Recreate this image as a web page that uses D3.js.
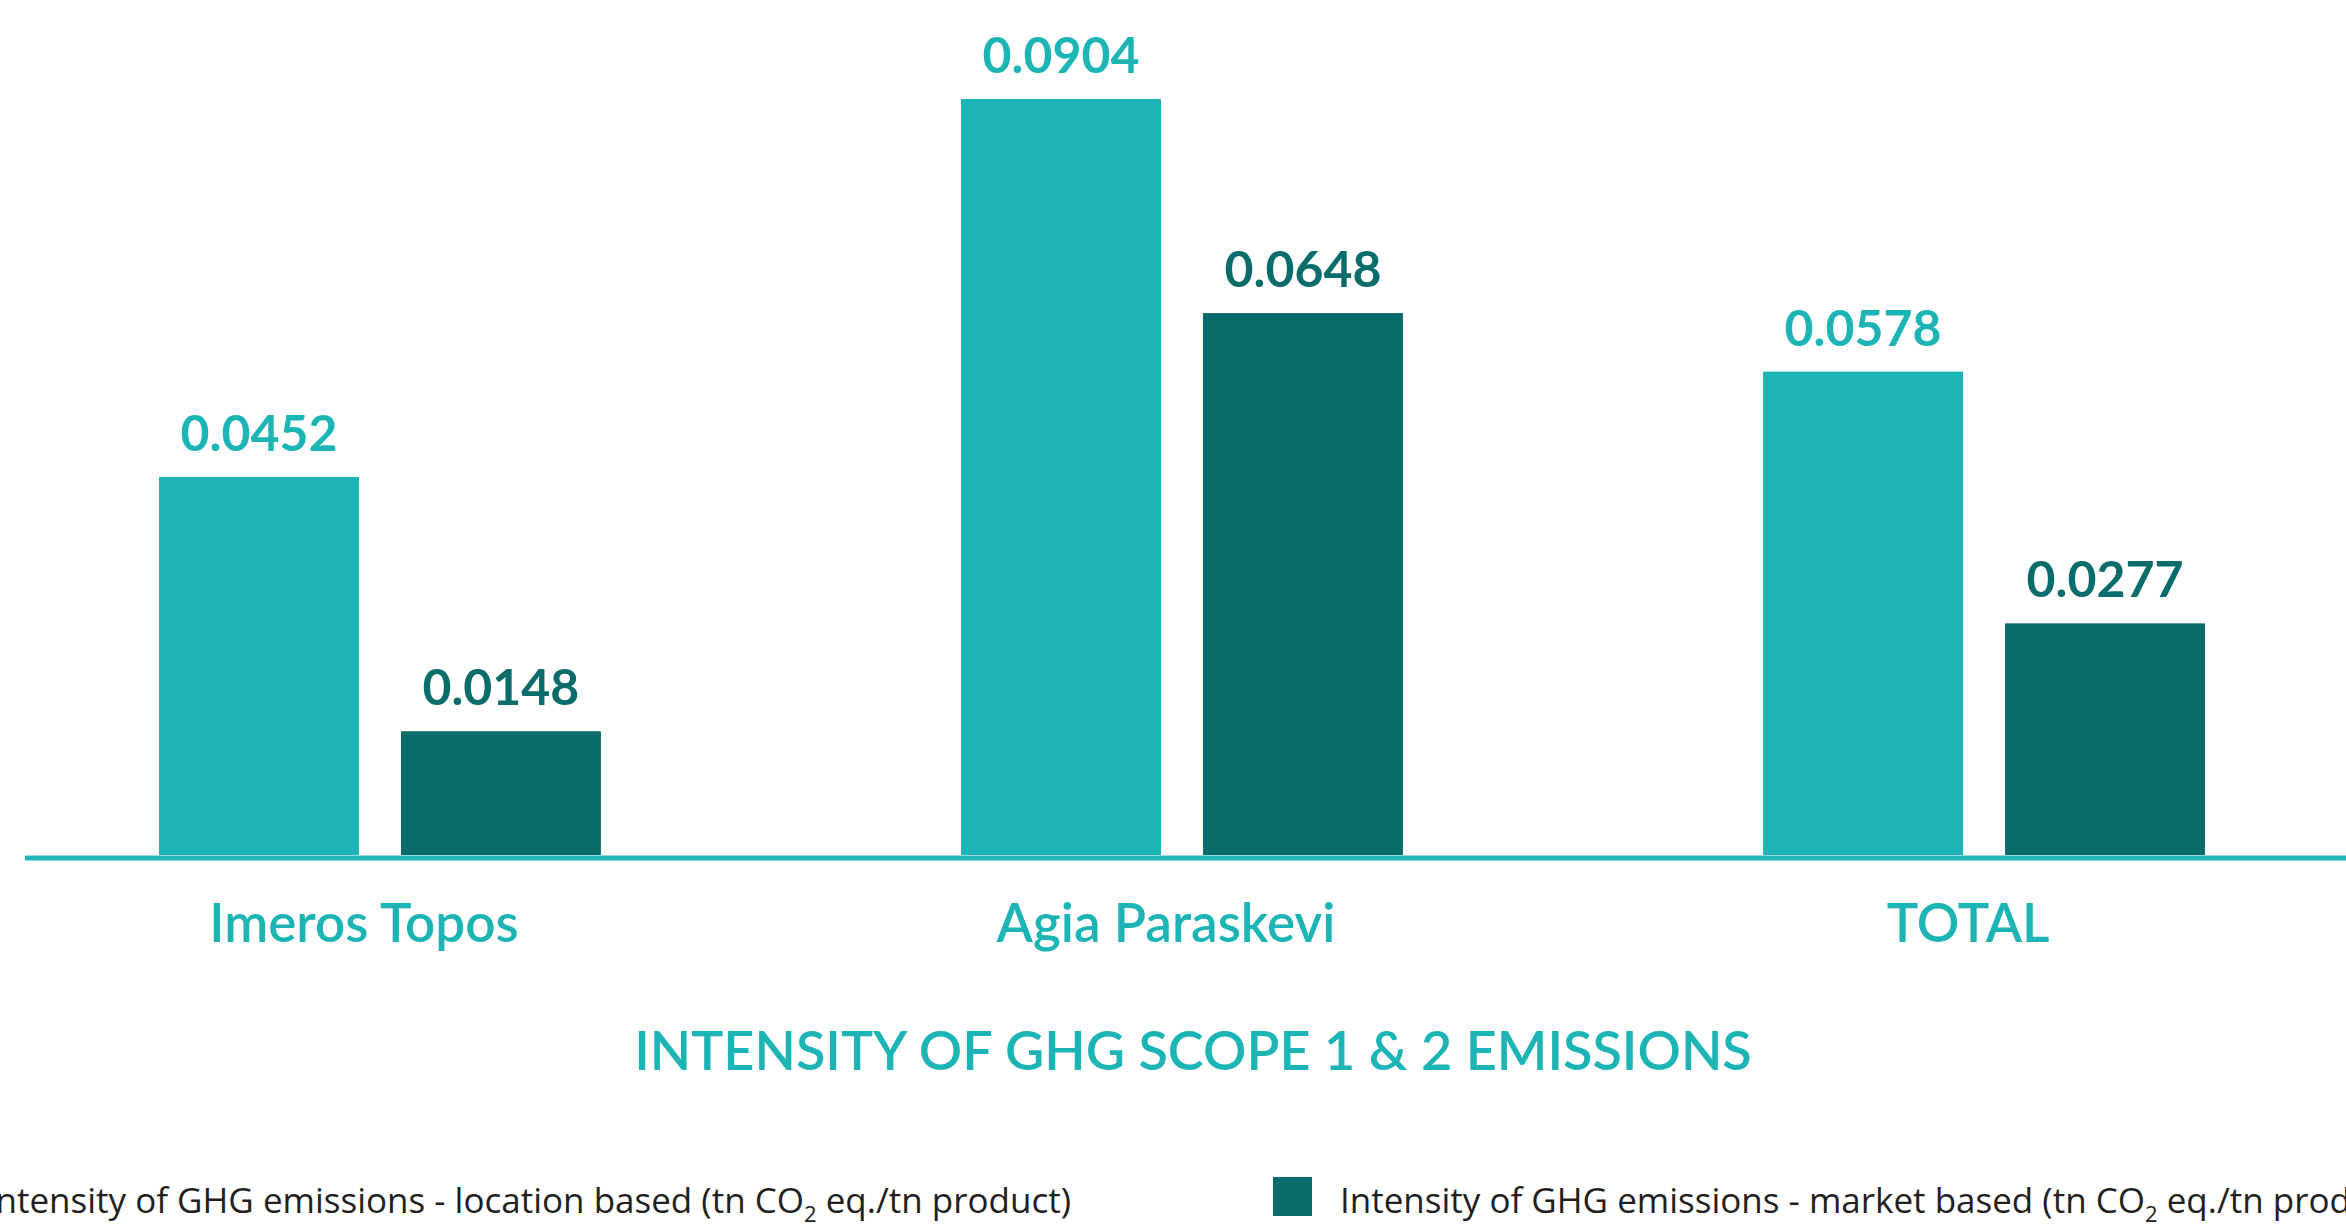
<!DOCTYPE html>
<html>
<head>
<meta charset="utf-8">
<script src="https://cdn.jsdelivr.net/npm/d3@7"></script>
<style>
  html, body { margin: 0; padding: 0; background: #ffffff; overflow: hidden; }
  svg { display: block; }
</style>
</head>
<body>
<svg id="chart" width="2346" height="1225"></svg>
<script>
// ---- data ----
const categories = ["Imeros Topos", "Agia Paraskevi", "TOTAL"];
const seriesKeys = ["location", "market"];
const locationBased = [0.0452, 0.0904, 0.0578];
const marketBased = [0.0148, 0.0648, 0.0277];
const chartTitle = "INTENSITY OF GHG SCOPE 1 & 2 EMISSIONS";
const legendParts = [
  ["Intensity of GHG emissions - location based (tn CO", "2", " eq./tn product)"],
  ["Intensity of GHG emissions - market based (tn CO", "2", " eq./tn product)"]
];

// ---- styles ----
const W = 2346, H = 1225;
const colors = { location: "#1db4b5", market: "#0a6c6b" };
const axisColor = "#22b6b7";
const labelFont = "Lato, 'Open Sans', sans-serif";
const legendFont = "'Open Sans', 'Noto Sans', sans-serif";

const rows = categories.map((c, i) => ({ category: c, location: locationBased[i], market: marketBased[i] }));

const svg = d3.select("#chart");

const baseY = 855;
const x0 = d3.scaleBand().domain(categories).range([159, 2205]).paddingInner(0.449).paddingOuter(0);
const x1 = d3.scaleBand().domain(seriesKeys).range([0, x0.bandwidth()]).paddingInner(0.1736).paddingOuter(0);
const y = d3.scaleLinear().domain([0, d3.max([...locationBased, ...marketBased])]).range([baseY, 99]);

const fmt = d3.format(".4f");

const groups = svg.append("g").selectAll("g")
  .data(rows).join("g")
  .attr("transform", d => `translate(${x0(d.category)},0)`);

groups.selectAll("rect")
  .data(d => seriesKeys.map(k => ({ key: k, value: d[k] })))
  .join("rect")
  .attr("x", d => x1(d.key))
  .attr("y", d => y(d.value))
  .attr("width", x1.bandwidth())
  .attr("height", d => y(0) - y(d.value))
  .attr("fill", d => colors[d.key]);

groups.selectAll("text.val")
  .data(d => seriesKeys.map(k => ({ key: k, value: d[k] })))
  .join("text")
  .attr("class", "val")
  .attr("x", d => x1(d.key) + x1.bandwidth() / 2)
  .attr("y", d => y(d.value) - 26)
  .attr("text-anchor", "middle")
  .attr("font-family", labelFont)
  .attr("font-weight", 700)
  .attr("font-size", 50)
  .attr("fill", d => colors[d.key])
  .text(d => fmt(d.value));

// baseline
svg.append("line")
  .attr("x1", 25).attr("x2", W)
  .attr("y1", baseY + 3).attr("y2", baseY + 3)
  .attr("stroke", axisColor)
  .attr("stroke-width", 5);

// category axis
const xAxis = d3.axisBottom(x0).tickSize(0).tickSizeOuter(0);
const gx = svg.append("g").attr("transform", `translate(0,${baseY})`).call(xAxis);
gx.select(".domain").remove();
gx.selectAll(".tick text")
  .attr("y", 87)
  .attr("dy", 0)
  .attr("dx", -16)
  .attr("font-family", labelFont)
  .attr("font-weight", 600)
  .attr("font-size", 53)
  .attr("fill", colors.location);

// title
svg.append("text")
  .attr("x", 1193)
  .attr("y", 1070)
  .attr("text-anchor", "middle")
  .attr("font-family", labelFont)
  .attr("font-weight", 600)
  .attr("font-size", 54)
  .attr("fill", colors.location)
  .text(chartTitle);

// legend
const legendY = 1213;
const sq = 39;
const legendG = svg.append("g");
function legendText(g, parts, xPos) {
  const t = g.append("text")
    .attr("x", xPos)
    .attr("y", legendY)
    .attr("font-family", legendFont)
    .attr("font-size", 35)
    .attr("fill", "#231f20");
  t.append("tspan").text(parts[0]);
  t.append("tspan").attr("font-size", 22).attr("dy", 9).text(parts[1]);
  t.append("tspan").attr("dy", -9).text(parts[2]);
  return t;
}
// second item anchored, first item laid out before it
const item2SquareX = 1273;
const t2 = legendText(legendG, legendParts[1], item2SquareX + 67);
legendG.append("rect").attr("x", item2SquareX).attr("y", legendY - 36).attr("width", sq).attr("height", sq).attr("fill", colors.market);
const t1 = legendText(legendG, legendParts[0], 0);
const w1 = t1.node().getComputedTextLength();
const t1x = item2SquareX - 202 - w1;
t1.attr("x", t1x);
legendG.append("rect").attr("x", t1x - 67).attr("y", legendY - 36).attr("width", sq).attr("height", sq).attr("fill", colors.location);
</script>
</body>
</html>
